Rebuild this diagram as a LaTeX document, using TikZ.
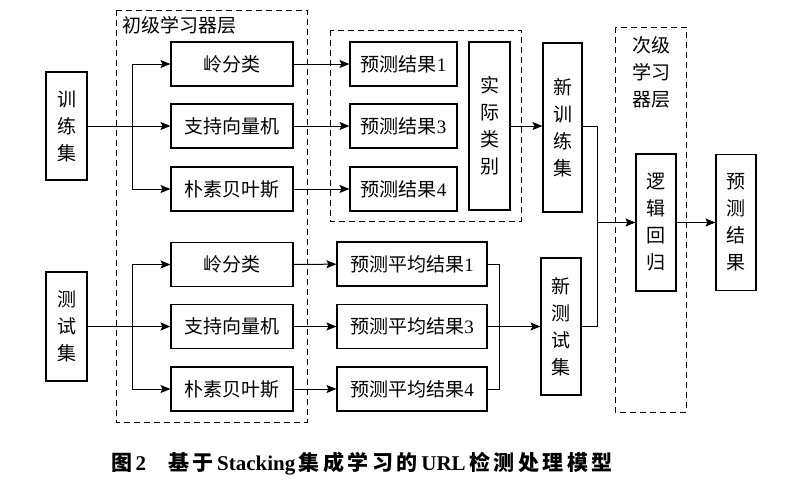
\documentclass[tikz,border=0pt]{standalone}
\usepackage{fontspec}
\setmainfont{Liberation Serif}
\newfontfamily\cjk{Noto Sans CJK SC}
\usetikzlibrary{arrows.meta, positioning, calc}
\tikzset{
  box/.style     = {rectangle, draw, line width=1.1pt, inner sep=0pt,
                    align=center, font=\fontsize{19}{27}\selectfont\cjk},
  hbox/.style    = {box, minimum height=44pt},
  vbox/.style    = {box, minimum width=41pt},
  dashbox/.style = {draw, line width=0.9pt, dash pattern=on 6pt off 4pt},
  arrow/.style   = {-{Stealth[length=10pt, width=8pt, inset=2pt]}, line width=1pt},
  link/.style    = {line width=1pt},
}

\begin{document}
\begin{tikzpicture}[x=1pt, y=-1pt]
  \useasboundingbox (0,0) rectangle (790,498);

  % ---- dashed groups ----
  \draw[dashbox] (116,10)  rectangle (307,422);
  \draw[dashbox] (330,30)  rectangle (521,221);
  \draw[dashbox] (615,27)  rectangle (686,412);
  \node[anchor=west, font=\fontsize{19}{27}\selectfont\cjk] (lvl1) at (119,25) {初级学习器层};
  \node[align=center, font=\fontsize{19}{27}\selectfont\cjk] (lvl2) at (651,72) {次级\\学习\\器层};

  % ---- inputs ----
  \node[vbox, minimum height=108pt] (train) at (66.5,126)   {训\\练\\集};
  \node[vbox, minimum height=109pt] (test)  at (66.5,326.5) {测\\试\\集};

  % ---- base learners ----
  \node[hbox, minimum width=122pt] (rdg1) at (232,64)    {岭分类};
  \node[hbox, minimum width=122pt] (svm1) at (232,126)   {支持向量机};
  \node[hbox, minimum width=122pt] (nb1)  at (232,189)   {朴素贝叶斯};
  \node[hbox, minimum width=122pt] (rdg2) at (232,264.5) {岭分类};
  \node[hbox, minimum width=122pt] (svm2) at (232,326.5) {支持向量机};
  \node[hbox, minimum width=122pt] (nb2)  at (232,389)   {朴素贝叶斯};

  % ---- predictions ----
  \node[hbox, minimum width=107pt] (pred1) at (403.5,64)  {预测结果{\rmfamily 1}};
  \node[hbox, minimum width=107pt] (pred3) at (403.5,126) {预测结果{\rmfamily 3}};
  \node[hbox, minimum width=107pt] (pred4) at (403.5,189) {预测结果{\rmfamily 4}};
  \node[vbox, minimum height=168pt] (label) at (489.5,126) {实\\际\\类\\别};

  \node[hbox, minimum width=150pt] (avg1) at (412,264)   {预测平均结果{\rmfamily 1}};
  \node[hbox, minimum width=150pt] (avg3) at (412,326.5) {预测平均结果{\rmfamily 3}};
  \node[hbox, minimum width=150pt] (avg4) at (412,389)   {预测平均结果{\rmfamily 4}};

  % ---- new sets, meta learner, output ----
  \node[vbox, minimum width=39pt, minimum height=169pt] (newtrain) at (562.5,127.5) {新\\训\\练\\集};
  \node[vbox, minimum width=40pt, minimum height=137pt] (newtest)  at (561,326.5)   {新\\测\\试\\集};
  \node[vbox, minimum width=40pt, minimum height=137pt] (logreg)   at (656,222.5)   {逻\\辑\\回\\归};
  \node[vbox, minimum width=40pt, minimum height=136pt] (result)   at (736,222.5)   {预\\测\\结\\果};

  % branch / merge points
  \coordinate (tsplit) at (132,126);
  \coordinate (esplit) at (132,326.5);
  \coordinate (amerge) at (499,326.5);
  \coordinate (mjoin)  at (597,222.5);

  % arrows
  \draw[arrow] (train) -- (svm1);
  \draw[arrow] (tsplit) |- (rdg1.west);
  \draw[arrow] (tsplit) |- (nb1.west);
  \draw[arrow] (test) -- (svm2);
  \draw[arrow] (esplit) |- (rdg2.west);
  \draw[arrow] (esplit) |- (nb2.west);

  \foreach \a/\b in {rdg1/pred1, svm1/pred3, nb1/pred4,
                     rdg2/avg1, svm2/avg3, nb2/avg4}
    \draw[arrow] (\a) -- (\b);

  \draw[arrow] (label.east) -- (label.east -| newtrain.west);
  \draw[link] (avg1.east) -| (amerge);
  \draw[link] (avg4.east) -| (amerge);
  \draw[arrow] (avg3) -- (newtest);

  \draw[link] (newtrain.east |- label.east) -| (mjoin);
  \draw[link] (newtest.east) -| (mjoin);
  \draw[arrow] (mjoin) -- (logreg.west);
  \draw[arrow] (logreg) -- (result);

  % caption
  \node[font=\fontsize{21}{24}\selectfont\bfseries] (caption) at (362,464)
    {{\cjk 图}\,2\hspace{22pt}{\cjk 基\,于}\,Stacking\,{\cjk 集\,成\,学\,习\,的}\,URL\,{\cjk 检\,测\,处\,理\,模\,型}};
\end{tikzpicture}
\end{document}
